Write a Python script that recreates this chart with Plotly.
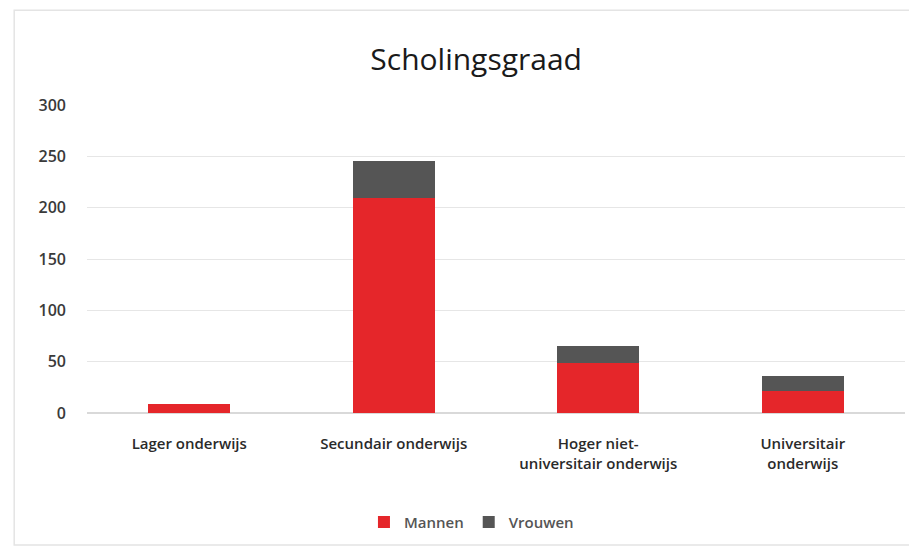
import plotly.graph_objects as go

categories = ["Lager onderwijs", "Secundair onderwijs", "Hoger niet-<br>universitair onderwijs", "Universitair<br>onderwijs"]
mannen = [9, 209, 49, 21]
vrouwen = [0, 36, 16, 15]

fig = go.Figure()
fig.add_trace(go.Bar(name="Mannen", x=categories, y=mannen, marker_color="#E5262A", marker_line_width=0))
fig.add_trace(go.Bar(name="Vrouwen", x=categories, y=vrouwen, marker_color="#555555", marker_line_width=0))

fig.update_layout(
    barmode="stack",
    bargap=0.6,
    width=909, height=547,
    paper_bgcolor="white", plot_bgcolor="white",
    margin=dict(l=79, r=12, t=97, b=142, autoexpand=False),
    title=dict(text="Scholingsgraad", x=0.515, xanchor="center", y=0.905, yanchor="middle",
               font=dict(family="Open Sans", size=30, color="#1a1a1a")),
    font=dict(family="Open Sans", size=15, color="#3a3a3a"),
    legend=dict(orientation="h", x=0.47, xanchor="center", y=-0.355, yanchor="middle",
                font=dict(size=15, color="#555555", weight=600), traceorder="normal",
                itemwidth=30, itemsizing="constant"),
    showlegend=True,
)
fig.update_yaxes(range=[0, 300], dtick=50, showgrid=True, gridcolor="#E6E6E6", gridwidth=1,
                 zeroline=True, zerolinecolor="#D9D9D9", ticks="", ticklabelstandoff=20,
                 tickfont=dict(size=16, color="#3a3a3a", weight=600))
fig.update_xaxes(showline=False, ticks="", ticklabelstandoff=20,
                 tickfont=dict(size=15, color="#2a2a2a", weight=600))
fig.add_shape(type="rect", xref="paper", yref="paper", x0=-0.089, x1=1.0086, y0=-0.4286, y1=1.308,
              line=dict(color="#E4E4E4", width=1.5), layer="below")

fig.write_html("out.html")
